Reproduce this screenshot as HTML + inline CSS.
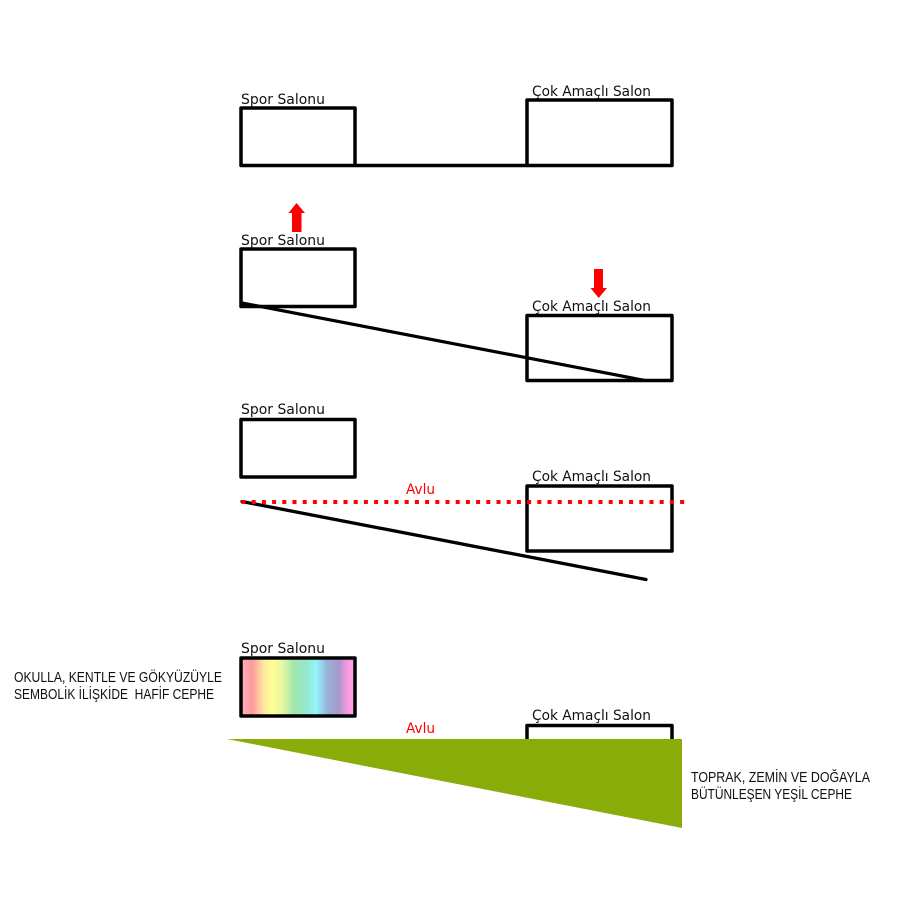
<!DOCTYPE html>
<html lang="tr"><head><meta charset="utf-8"><title>Diagram</title>
<style>html,body{margin:0;padding:0;background:#fff}svg{display:block}
.l{font-family:"DejaVu Sans","Liberation Sans",sans-serif;font-size:14.500px;fill:#111}
.c{font-family:"Liberation Sans","DejaVu Sans",sans-serif;font-size:14.500px;fill:#111}
.r{fill:none;stroke:#000;stroke-width:3.500;stroke-linejoin:round}</style></head>
<body>
<svg width="900" height="900" viewBox="0 0 900 900" xmlns="http://www.w3.org/2000/svg">
<defs><linearGradient id="g" x1="0" x2="1" y1="0" y2="0">
<stop offset="0" stop-color="#ffb0b8"/><stop offset=".1" stop-color="#ff9a9e"/><stop offset=".2" stop-color="#ffe8a0"/><stop offset=".27" stop-color="#ffff94"/><stop offset=".36" stop-color="#e8f8a0"/><stop offset=".46" stop-color="#a2e8ac"/><stop offset=".58" stop-color="#94e8d0"/><stop offset=".66" stop-color="#94f4fa"/><stop offset=".76" stop-color="#98b0d8"/><stop offset=".86" stop-color="#a898cc"/><stop offset=".94" stop-color="#ff98e4"/><stop offset="1" stop-color="#ffa8e8"/>
</linearGradient></defs>

<text class="l" x="241" y="104" textLength="84" lengthAdjust="spacingAndGlyphs">Spor Salonu</text>
<text class="l" x="532" y="96" textLength="119" lengthAdjust="spacingAndGlyphs">Çok Amaçlı Salon</text>
<rect class="r" x="241" y="108" width="114" height="57.500"/>
<rect class="r" x="527" y="100" width="145" height="65.500"/>
<line x1="355" y1="165.500" x2="527" y2="165.500" stroke="#000" stroke-width="3.500"/>

<polygon points="296.500,203 305,213 301.500,213 301.500,232 292,232 292,213 288.500,213" fill="#f00"/>
<text class="l" x="241" y="245" textLength="84" lengthAdjust="spacingAndGlyphs">Spor Salonu</text>
<rect class="r" x="241" y="249" width="114" height="57.500"/>
<polygon points="594,269 603,269 603,288 607,288 598.700,298 590.500,288 594,288" fill="#f00"/>
<text class="l" x="532" y="311" textLength="119" lengthAdjust="spacingAndGlyphs">Çok Amaçlı Salon</text>
<rect class="r" x="527" y="315.500" width="145" height="65"/>
<line x1="242" y1="303" x2="645" y2="380.500" stroke="#000" stroke-width="3.200"/>
<polygon points="240,302 262,307 240,308" fill="#000"/>

<text class="l" x="241" y="414" textLength="84" lengthAdjust="spacingAndGlyphs">Spor Salonu</text>
<rect class="r" x="241" y="419.500" width="114" height="57.500"/>
<text class="l" x="532" y="481" textLength="119" lengthAdjust="spacingAndGlyphs">Çok Amaçlı Salon</text>
<rect class="r" x="527" y="486" width="145" height="65"/>
<line x1="242" y1="501.500" x2="646" y2="579.500" stroke="#000" stroke-width="3.300" stroke-linecap="round"/>
<line x1="241.500" y1="502" x2="686" y2="502" stroke="#f00" stroke-width="4" stroke-dasharray="4 6.200"/>
<text class="l" x="406" y="494" style="fill:#f00" textLength="29" lengthAdjust="spacingAndGlyphs">Avlu</text>

<text class="l" x="241" y="653" textLength="84" lengthAdjust="spacingAndGlyphs">Spor Salonu</text>
<rect x="241" y="658" width="114" height="58" fill="url(#g)" stroke="#000" stroke-width="3.500" stroke-linejoin="round"/>
<text class="c" x="14" y="682" textLength="208" lengthAdjust="spacingAndGlyphs">OKULLA, KENTLE VE GÖKYÜZÜYLE</text>
<text class="c" x="14" y="699" textLength="200" lengthAdjust="spacingAndGlyphs" xml:space="preserve">SEMBOLİK İLİŞKİDE  HAFİF CEPHE</text>
<text class="l" x="406" y="733" style="fill:#f00" textLength="29" lengthAdjust="spacingAndGlyphs">Avlu</text>
<text class="l" x="532" y="720" textLength="119" lengthAdjust="spacingAndGlyphs">Çok Amaçlı Salon</text>
<rect class="r" x="527" y="725.500" width="145" height="30"/>
<polygon points="227,739 682,739 682,828" fill="#8aac08"/>
<text class="c" x="691" y="782" textLength="179" lengthAdjust="spacingAndGlyphs">TOPRAK, ZEMİN VE DOĞAYLA</text>
<text class="c" x="691" y="799" textLength="161" lengthAdjust="spacingAndGlyphs">BÜTÜNLEŞEN YEŞİL CEPHE</text>
</svg>
</body></html>
